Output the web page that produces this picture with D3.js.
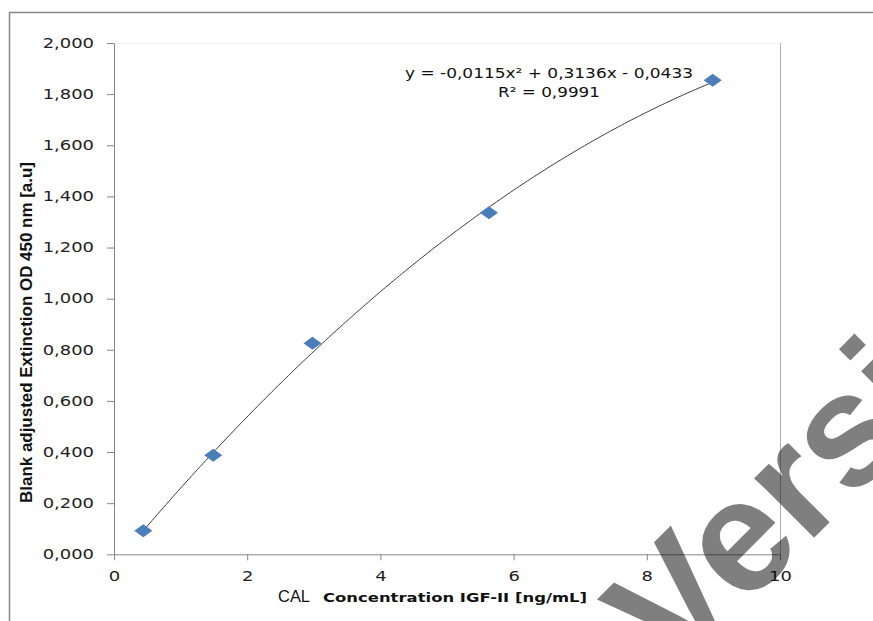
<!DOCTYPE html>
<html>
<head>
<meta charset="utf-8">
<script src="https://cdn.jsdelivr.net/npm/d3@7"></script>
<style>
  html, body { margin: 0; padding: 0; background: #fff; }
  svg { display: block; }
</style>
</head>
<body>
<svg id="chart" width="873" height="621"></svg>
<script>
// Calibration standards: concentration (ng/mL) and blank-adjusted OD 450 nm
const concentration = [0.44, 1.49, 2.98, 5.63, 8.99];
const extinction = [0.092, 0.387, 0.826, 1.336, 1.854];

// Second-order polynomial fit: a*x^2 + b*x + c
const fitCoefficients = [-0.0115, 0.3136, -0.0433];
const fitLabel = "y = -0,0115x² + 0,3136x - 0,0433";
const rSquaredLabel = "R² = 0,9991";

const xTicks = [0, 2, 4, 6, 8, 10];
const yTicks = [0, 0.2, 0.4, 0.6, 0.8, 1.0, 1.2, 1.4, 1.6, 1.8, 2.0];

const xTitlePrefix = "CAL";
const xTitle = "Concentration IGF-II [ng/mL]";
const yTitle = "Blank adjusted Extinction OD 450 nm [a.u]";
const watermark = "Version";

const svg = d3.select("#chart");
const W = 873, H = 621;
const plot = { left: 114, right: 780, top: 43, bottom: 554.3 };
const axisColor = "#868686";
const labelStretch = 1.33;

svg.append("rect").attr("width", W).attr("height", H).attr("fill", "#fff");

// Outer chart frame
svg.append("rect")
  .attr("x", 9.5).attr("y", 12.5)
  .attr("width", 900).attr("height", 700)
  .attr("fill", "none").attr("stroke", "#898989").attr("stroke-width", 1.5);

const x = d3.scaleLinear().domain([0, 10]).range([plot.left, plot.right]);
const y = d3.scaleLinear().domain([0, 2]).range([plot.bottom, plot.top]);

const locale = d3.formatLocale({ decimal: ",", thousands: ".", grouping: [3], currency: ["", ""] });
const fmtY = locale.format(".3f");

// Plot area edges
svg.append("line")
  .attr("x1", plot.left).attr("x2", plot.right)
  .attr("y1", plot.top + 0.5).attr("y2", plot.top + 0.5)
  .attr("stroke", "#f1f1f1");
svg.append("line")
  .attr("x1", plot.right + 0.5).attr("x2", plot.right + 0.5)
  .attr("y1", plot.top).attr("y2", plot.bottom)
  .attr("stroke", "#b0b0b0");

// Axes
const xAxis = svg.append("g")
  .attr("transform", `translate(0,${plot.bottom})`)
  .call(d3.axisBottom(x).tickValues(xTicks).tickSize(6).tickSizeOuter(0).tickFormat(d3.format("d")));
const yAxis = svg.append("g")
  .attr("transform", `translate(${plot.left},0)`)
  .call(d3.axisLeft(y).tickValues(yTicks).tickSize(7).tickSizeOuter(0).tickFormat(fmtY));

[xAxis, yAxis].forEach(g => {
  g.select(".domain").attr("stroke", axisColor);
  g.selectAll(".tick line").attr("stroke", axisColor);
  g.selectAll(".tick text")
    .attr("fill", "#1e1e1e")
    .style("font-family", "'DejaVu Sans', Verdana, sans-serif")
    .style("font-size", "13.5px");
});
xAxis.selectAll(".tick text")
  .attr("y", 26.5).attr("dy", 0)
  .attr("transform", `scale(${labelStretch},1)`);
yAxis.selectAll(".tick text")
  .attr("x", -20 / labelStretch)
  .attr("transform", `scale(${labelStretch},1)`);

// Trendline from the fitted polynomial, across the range of the standards
const poly = v => fitCoefficients[0] * v * v + fitCoefficients[1] * v + fitCoefficients[2];
const xs = d3.range(0, 201).map(i => d3.min(concentration) + (d3.max(concentration) - d3.min(concentration)) * i / 200);
svg.append("path")
  .datum(xs)
  .attr("fill", "none")
  .attr("stroke", "#3c3c3c")
  .attr("stroke-width", 1)
  .attr("d", d3.line().x(d => x(d)).y(d => y(poly(d))));

// Standards as diamond markers
svg.append("g").selectAll("path")
  .data(concentration.map((c, i) => [c, extinction[i]]))
  .join("path")
  .attr("transform", d => `translate(${x(d[0])},${y(d[1])})`)
  .attr("d", "M-9,0L0,-6.5L9,0L0,6.5Z")
  .attr("fill", "#4a7ebb");

// Equation and R² labels
const eqFont = "'DejaVu Sans', Verdana, sans-serif";
svg.append("text")
  .attr("x", 549).attr("y", 78)
  .attr("text-anchor", "middle")
  .attr("textLength", 288).attr("lengthAdjust", "spacingAndGlyphs")
  .style("font-family", eqFont).style("font-size", "13.5px")
  .attr("fill", "#111")
  .text(fitLabel);
svg.append("text")
  .attr("x", 549).attr("y", 97)
  .attr("text-anchor", "middle")
  .attr("textLength", 102).attr("lengthAdjust", "spacingAndGlyphs")
  .style("font-family", eqFont).style("font-size", "13.5px")
  .attr("fill", "#111")
  .text(rSquaredLabel);

// Axis titles
svg.append("text")
  .attr("x", 278).attr("y", 602)
  .attr("textLength", 32).attr("lengthAdjust", "spacingAndGlyphs")
  .style("font-family", "'Liberation Sans', Arial, sans-serif")
  .style("font-size", "16px")
  .attr("fill", "#111")
  .text(xTitlePrefix);
svg.append("text")
  .attr("x", 323).attr("y", 602)
  .attr("textLength", 264).attr("lengthAdjust", "spacingAndGlyphs")
  .style("font-family", "'DejaVu Sans', Verdana, sans-serif")
  .style("font-size", "13px").style("font-weight", "bold")
  .attr("fill", "#111")
  .text(xTitle);
svg.append("text")
  .attr("transform", `translate(32,${(162 + 503) / 2}) scale(${labelStretch},1) rotate(-90)`)
  .attr("text-anchor", "middle")
  .attr("textLength", 341).attr("lengthAdjust", "spacingAndGlyphs")
  .style("font-family", "'Liberation Sans Narrow', 'Liberation Sans', sans-serif")
  .style("font-size", "13px").style("font-weight", "bold")
  .attr("fill", "#111")
  .text(yTitle);

// Diagonal watermark
svg.append("text")
  .attr("transform", "translate(674,678) rotate(-45)")
  .style("font-family", "'Liberation Sans', Arial, sans-serif")
  .style("font-size", "160px").style("font-weight", "bold")
  .attr("fill", "#000").attr("fill-opacity", 0.5)
  .text(watermark);
</script>
</body>
</html>
